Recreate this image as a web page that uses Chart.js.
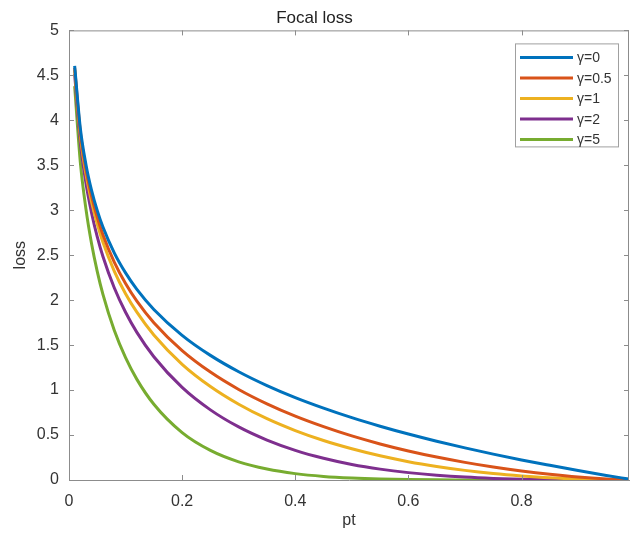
<!DOCTYPE html>
<html>
<head>
<meta charset="utf-8">
<script src="https://cdn.jsdelivr.net/npm/chart.js@4.4.1/dist/chart.umd.min.js"></script>
<style>
  html, body { margin: 0; padding: 0; background: #fff; }
  #wrap { width: 630px; height: 536px; }
</style>
</head>
<body>
<div id="wrap"><canvas id="chart1"></canvas></div>
<script>
// focal loss curves
const pt = [0.01, 0.02, 0.03, 0.04, 0.05, 0.06, 0.08, 0.1, 0.12, 0.15, 0.2, 0.25, 0.3, 0.35, 0.4,
    0.45, 0.5, 0.55, 0.6, 0.65, 0.7, 0.75, 0.8, 0.85, 0.9, 0.95, 0.99]
const lossG0 = [4.605, 3.912, 3.507, 3.219, 2.996, 2.813, 2.526, 2.303, 2.12, 1.897, 1.609, 1.386, 1.204, 1.05, 0.916,
    0.799, 0.693, 0.598, 0.511, 0.431, 0.357, 0.288, 0.223, 0.163, 0.105, 0.051, 0.01]
const lossG05 = [4.582, 3.873, 3.454, 3.154, 2.92, 2.727, 2.423, 2.185, 1.989, 1.749, 1.439, 1.2, 1.007, 0.847, 0.71,
    0.593, 0.49, 0.401, 0.323, 0.255, 0.196, 0.144, 0.1, 0.063, 0.033, 0.012, 0.001]
const lossG1 = [4.559, 3.834, 3.402, 3.09, 2.846, 2.644, 2.324, 2.072, 1.866, 1.612, 1.287, 1.04, 0.843, 0.682, 0.55,
    0.439, 0.347, 0.269, 0.204, 0.151, 0.107, 0.072, 0.045, 0.024, 0.011, 0.003, 0]
const lossG2 = [4.513, 3.757, 3.3, 2.967, 2.704, 2.486, 2.138, 1.865, 1.642, 1.371, 1.03, 0.78, 0.59, 0.444, 0.33,
    0.242, 0.173, 0.121, 0.082, 0.053, 0.032, 0.018, 0.009, 0.004, 0.001, 0, 0]
const lossG5 = [4.38, 3.536, 3.012, 2.624, 2.318, 2.065, 1.665, 1.36, 1.119, 0.842, 0.527, 0.329, 0.202, 0.122, 0.071,
    0.04, 0.022, 0.011, 0.005, 0.002, 0.001, 0, 0, 0, 0, 0, 0]
const seriesNames = ['γ=0', 'γ=0.5', 'γ=1', 'γ=2', 'γ=5']
const seriesColors = ['#0072BD', '#D95319', '#EDB120', '#7E2F8E', '#77AC30']
const xTicks = [0, 0.2, 0.4, 0.6, 0.8]
const yTicks = [0, 0.5, 1, 1.5, 2, 2.5, 3, 3.5, 4, 4.5, 5]

const FONT = "'Liberation Sans', Arial, sans-serif"
const AXIS = '#8c8c8c'
const TEXT = '#333333'

const allLoss = [lossG0, lossG05, lossG1, lossG2, lossG5]
const datasets = allLoss.map((vals, i) => ({
    label: seriesNames[i],
    data: pt.map((p, j) => ({ x: p, y: vals[j] })),
    borderColor: seriesColors[i],
    backgroundColor: seriesColors[i],
    borderWidth: 3,
    pointRadius: 0,
    cubicInterpolationMode: 'monotone',
}))

// matlab style box: inward ticks on all four sides + top/right lines
const boxPlugin = {
    id: 'box',
    afterDatasetsDraw(chart) {
        const { ctx, chartArea: a, scales } = chart
        ctx.save()
        ctx.strokeStyle = AXIS
        ctx.lineWidth = 1
        ctx.beginPath()
        ctx.moveTo(a.left, a.top + 0.5)
        ctx.lineTo(a.right, a.top + 0.5)
        ctx.moveTo(a.right - 0.5, a.top)
        ctx.lineTo(a.right - 0.5, a.bottom)
        xTicks.forEach((v) => {
            const x = Math.round(scales.x.getPixelForValue(v)) + 0.5
            ctx.moveTo(x, a.bottom)
            ctx.lineTo(x, a.bottom - 5)
            ctx.moveTo(x, a.top)
            ctx.lineTo(x, a.top + 5)
        })
        yTicks.forEach((v) => {
            const y = Math.round(scales.y.getPixelForValue(v)) + 0.5
            ctx.moveTo(a.left, y)
            ctx.lineTo(a.left + 5, y)
            ctx.moveTo(a.right, y)
            ctx.lineTo(a.right - 5, y)
        })
        ctx.stroke()
        ctx.restore()
    },
}

// legend box in the top right corner
const legendBox = {
    id: 'legendBox',
    afterDraw(chart) {
        const { ctx, chartArea: a } = chart
        const w = 103
        const h = 103
        const left = a.right - 114
        const top = a.top + 13
        ctx.save()
        ctx.fillStyle = '#fff'
        ctx.fillRect(left, top, w, h)
        ctx.strokeStyle = '#a0a0a0'
        ctx.lineWidth = 1
        ctx.strokeRect(left + 0.5, top + 0.5, w, h)
        ctx.font = '14px ' + FONT
        ctx.textBaseline = 'middle'
        chart.data.datasets.forEach((ds, i) => {
            const y = top + 14 + i * 20.5
            ctx.strokeStyle = ds.borderColor
            ctx.lineWidth = 3
            ctx.beginPath()
            ctx.moveTo(left + 5, y)
            ctx.lineTo(left + 58, y)
            ctx.stroke()
            ctx.fillStyle = TEXT
            ctx.fillText(ds.label, left + 62, y + 1)
        })
        ctx.restore()
    },
}

const ctx1 = document.getElementById('chart1')

const chart1 = new Chart(ctx1, {
    type: 'line',
    data: { datasets },
    plugins: [boxPlugin, legendBox],
    options: {
        responsive: true,
        maintainAspectRatio: false,
        animation: false,
        layout: { padding: { left: 0, right: 1, top: 0, bottom: 0 } },
        plugins: {
            legend: { display: false },
            tooltip: { enabled: false },
            title: {
                display: true,
                text: 'Focal loss',
                color: '#222',
                font: { family: FONT, size: 17, weight: 'normal' },
                padding: { top: 8, bottom: 2 },
            },
        },
        scales: {
            x: {
                type: 'linear',
                min: 0,
                max: 0.99,
                afterBuildTicks: (s) => {
                    s.ticks = xTicks.map((v) => ({ value: v }))
                },
                afterFit: (s) => {
                    s.height = 56
                },
                grid: { display: false, drawTicks: false },
                border: { color: AXIS, width: 1 },
                ticks: {
                    color: TEXT,
                    padding: 12,
                    maxRotation: 0,
                    font: { family: FONT, size: 16 },
                    callback: (v) => String(v),
                },
                title: {
                    display: true,
                    text: 'pt',
                    color: TEXT,
                    font: { family: FONT, size: 16 },
                    padding: { top: 0, bottom: 6 },
                },
            },
            y: {
                min: 0,
                max: 5,
                afterBuildTicks: (s) => {
                    s.ticks = yTicks.map((v) => ({ value: v }))
                },
                afterFit: (s) => {
                    s.width = 69
                },
                grid: { display: false, drawTicks: false },
                border: { color: AXIS, width: 1 },
                ticks: {
                    color: TEXT,
                    padding: 10,
                    font: { family: FONT, size: 16 },
                    callback: (v) => String(v),
                },
                title: {
                    display: true,
                    text: 'loss',
                    color: TEXT,
                    font: { family: FONT, size: 16 },
                    padding: { top: 11, bottom: 0 },
                },
            },
        },
    },
})
</script>
</body>
</html>
